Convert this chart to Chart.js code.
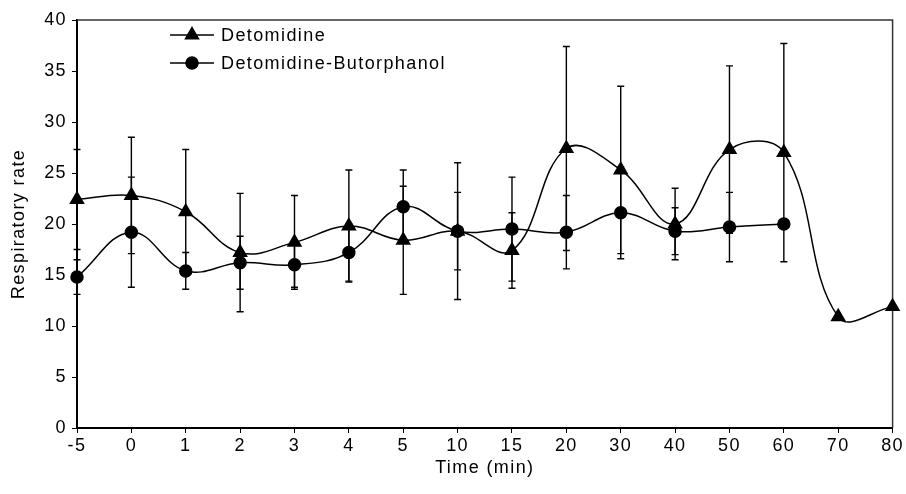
<!DOCTYPE html>
<html lang="en">
<head>
  <meta charset="UTF-8">
  <title>Respiratory rate</title>
  <script src="https://cdn.jsdelivr.net/npm/chart.js"></script>
  <style>
    body { margin: 0; background: white; }
    canvas { display: block; }
  </style>
</head>
<body>
<canvas id="rrChart" width="906" height="494"></canvas>

<script>
  // time points (min), shown as evenly spaced categories
  const times = ["-5", "0", "1", "2", "3", "4", "5", "10", "15", "20", "30", "40", "50", "60", "70", "80"];

  // mean respiratory rate and SD
  const detomidine   = [22.4, 22.8, 21.2, 17.2, 18.2, 19.8, 18.4, 19.3, 17.4, 27.4, 25.3, 20.0, 27.3, 27.0, 10.9, 11.9];
  const detomidineSD = [4.9, 5.7, 6.1, 5.8, 4.6, 5.5, 5.3, 6.7, 3.7, 10.0, 8.2, 3.5, 8.2, 10.7, 0, 0];
  const butorphanol   = [14.8, 19.2, 15.4, 16.2, 16.0, 17.2, 21.7, 19.3, 19.5, 19.2, 21.1, 19.3, 19.7, 20.0, null, null];
  const butorphanolSD = [1.7, 5.4, 1.8, 2.6, 2.2, 2.8, 3.6, 3.8, 5.1, 3.6, 4.5, 2.3, 3.4, 0, null, null];

  const yTicks = [0, 5, 10, 15, 20, 25, 30, 35, 40];

  const FONT = { family: "'Liberation Sans', Arial, sans-serif", size: 18 };

  // the source text is set a bit wide, so add some letter spacing
  const spacing = {
    id: "spacing",
    beforeUpdate(chart) { chart.ctx.letterSpacing = "1.4px"; },
    beforeDraw(chart) { chart.ctx.letterSpacing = "1.4px"; }
  };

  // vertical SD bars with small caps
  const errorBars = {
    id: "errorBars",
    afterDatasetsDraw(chart) {
      const ctx = chart.ctx;
      const x = chart.scales.x, y = chart.scales.y;
      ctx.save();
      ctx.strokeStyle = "#000";
      ctx.lineWidth = 1.4;
      chart.data.datasets.forEach(ds => {
        ds.data.forEach((v, i) => {
          const sd = ds.errors[i];
          if (v == null || !sd) return;
          const px = x.getPixelForValue(i);
          const top = y.getPixelForValue(v + sd);
          const bot = y.getPixelForValue(v - sd);
          ctx.beginPath();
          ctx.moveTo(px, top); ctx.lineTo(px, bot);
          ctx.moveTo(px - 3.5, top); ctx.lineTo(px + 3.5, top);
          ctx.moveTo(px - 3.5, bot); ctx.lineTo(px + 3.5, bot);
          ctx.stroke();
        });
      });
      ctx.restore();
    }
  };

  // top and right sides of the plot frame
  const frame = {
    id: "frame",
    beforeDatasetsDraw(chart) {
      const a = chart.chartArea, ctx = chart.ctx;
      ctx.save();
      ctx.strokeStyle = "#333";
      ctx.lineWidth = 1.5;
      ctx.beginPath();
      ctx.moveTo(a.left, a.top);
      ctx.lineTo(a.right, a.top);
      ctx.lineTo(a.right, a.bottom);
      ctx.stroke();
      ctx.restore();
    }
  };

  // legend inside the plot, line with marker through it
  const insideLegend = {
    id: "insideLegend",
    afterDraw(chart) {
      const ctx = chart.ctx;
      ctx.save();
      ctx.letterSpacing = "1.4px";
      chart.data.datasets.forEach((ds, i) => {
        const yy = 35 + i * 28;
        ctx.strokeStyle = "#000";
        ctx.lineWidth = 1.5;
        ctx.beginPath();
        ctx.moveTo(170, yy); ctx.lineTo(214, yy);
        ctx.stroke();
        ctx.fillStyle = "#000";
        Chart.helpers.drawPoint(ctx, {
          pointStyle: ds.pointStyle, radius: ds.pointRadius, rotation: 0, borderWidth: 1
        }, 192, yy);
        ctx.fill();
        ctx.font = FONT.size + "px " + FONT.family;
        ctx.textBaseline = "middle";
        ctx.fillText(ds.label, 221, yy + 1);
      });
      ctx.restore();
    }
  };

  new Chart(document.getElementById("rrChart"), {
    type: "line",
    data: {
      labels: times,
      datasets: [
        {
          label: "Detomidine",
          data: detomidine,
          errors: detomidineSD,
          borderColor: "#000",
          backgroundColor: "#000",
          borderWidth: 1.5,
          pointStyle: "triangle",
          pointRadius: 7.5,
          pointBackgroundColor: "#000",
          tension: 0.4
        },
        {
          label: "Detomidine-Butorphanol",
          data: butorphanol,
          errors: butorphanolSD,
          borderColor: "#000",
          backgroundColor: "#000",
          borderWidth: 1.5,
          pointStyle: "circle",
          pointRadius: 6,
          pointBackgroundColor: "#000",
          tension: 0.4
        }
      ]
    },
    options: {
      responsive: false,
      animation: false,
      layout: { padding: { top: 20, right: 13, left: 0, bottom: 0 } },
      plugins: {
        legend: { display: false },
        tooltip: { enabled: false }
      },
      scales: {
        x: {
          type: "category",
          offset: false,
          grid: { drawOnChartArea: false, tickLength: 5, color: "#000", lineWidth: 1 },
          border: { display: true, color: "#000", width: 2 },
          ticks: { color: "#000", font: FONT, padding: 2, maxRotation: 0, autoSkip: false },
          title: { display: true, text: "Time (min)", color: "#000", font: FONT, padding: { top: 15, bottom: 15 } },
          afterFit(scale) { scale.height = 66; }
        },
        y: {
          min: 0,
          max: 40,
          afterBuildTicks(scale) { scale.ticks = yTicks.map(v => ({ value: v })); },
          grid: { drawOnChartArea: false, tickLength: 5, color: "#000", lineWidth: 1 },
          border: { display: true, color: "#000", width: 2 },
          ticks: { color: "#000", font: FONT, padding: 5 },
          title: { display: true, text: "Respiratory rate", color: "#000", font: FONT, padding: { top: 8, bottom: 8 } },
          afterFit(scale) { scale.width = 77; }
        }
      }
    },
    plugins: [spacing, frame, errorBars, insideLegend]
  });
</script>
</body>
</html>
